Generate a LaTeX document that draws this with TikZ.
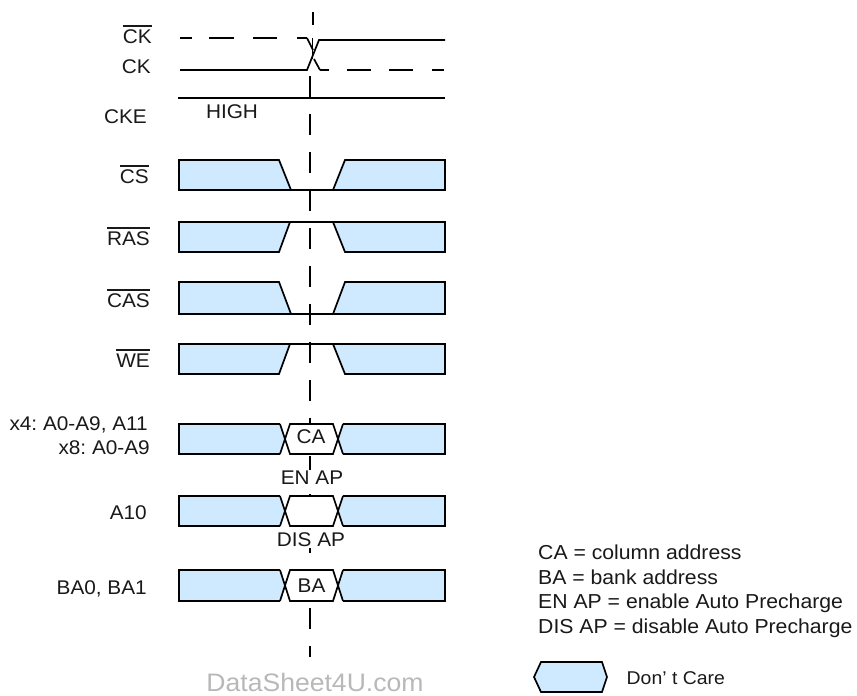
\documentclass[tikz,border=0pt]{standalone}
\usepackage{fontspec}
\setmainfont[FakeStretch=1.05]{Liberation Sans}
\newcommand\ovl[1]{\vbox{\hrule height 1.5pt\kern 2.4pt\hbox{#1}}}
\definecolor{dc}{RGB}{207,233,255}
\tikzset{
 x=1pt,y=-1pt,
 sig/.style={line width=1.7pt,line join=miter,draw=black},
 dontcare/.style={sig,fill=dc},
 wave/.style={line width=1.7pt},
 lbl/.style={inner sep=0pt,font=\frenchspacing\fontsize{19.8}{22}\selectfont,text=black!90},
 boxlbl/.style={lbl,fill=white,inner xsep=1pt,inner ysep=1pt},
 rlbl/.style={lbl,anchor=base east},
 llbl/.style={lbl,anchor=base west,font=\frenchspacing\fontsize{20.2}{22}\selectfont},
 guide/.style={line width=1.7pt,dash pattern=on 21pt off 17pt},
}
\newcommand\lowrow[2]{% top, bottom: dips low in centre
 \path[dontcare] (179,#1)--(279,#1)--(291,#2)--(179,#2)--cycle;
 \path[dontcare] (445,#1)--(345,#1)--(333,#2)--(445,#2)--cycle;
 \draw[sig] (291,#2)--(333,#2);}
\newcommand\highrow[2]{%
 \path[dontcare] (179,#1)--(290,#1)--(279,#2)--(179,#2)--cycle;
 \path[dontcare] (445,#1)--(333,#1)--(345,#2)--(445,#2)--cycle;
 \draw[sig] (290,#1)--(333,#1);}
\newcommand\addrrow[2]{%
 \path[fill=dc] (179,#1)--(280,#1)--(285,{(#1+#2)/2})--(280,#2)--(179,#2)--cycle;
 \path[fill=dc] (445,#1)--(343,#1)--(338,{(#1+#2)/2})--(343,#2)--(445,#2)--cycle;
 \path[fill=white] (290,#1)--(333,#1)--(338,{(#1+#2)/2})--(333,#2)--(290,#2)--(285,{(#1+#2)/2})--cycle;
 \draw[sig] (280,#1)--(179,#1)--(179,#2)--(280,#2);
 \draw[sig] (343,#1)--(445,#1)--(445,#2)--(343,#2);
 \draw[sig] (280,#1)--(290,#2)--(333,#2)--(343,#1);
 \draw[sig] (280,#2)--(290,#1)--(333,#1)--(343,#2);}
\begin{document}
\begin{tikzpicture}
\useasboundingbox (0,0) rectangle (857,696);
% guide
\draw[wave] (313,12)--(313,25);
\draw[wave] (312.5,38)--(312.5,59);
\draw[guide] (310,76)--(310,657);
% clocks
\draw[wave,dash pattern=on 12pt off 17pt on 25pt off 19pt on 24pt off 20pt on 10pt off 100pt] (180,38)--(307,38);
\draw[wave] (307,38)--(313,50) (314,59)--(320,70);
\draw[wave,dash pattern=on 9pt off 18pt on 24pt off 18pt on 24pt off 19pt on 12pt off 100pt] (320,70)--(444,70);
\draw[wave] (180,70)--(307,70)--(319,40)--(445,40);
\draw[wave] (178,98)--(445,98);
% rows
\lowrow{160}{190}
\highrow{222}{252}
\lowrow{282}{314}
\highrow{344}{374}
\addrrow{424}{454}
\addrrow{496}{526}
\addrrow{570}{601}
% box labels
\node[lbl] (tca) at (311,437) {CA};
\node[lbl] (tba) at (311.5,586) {BA};
\node[boxlbl] (ten) at (312,478) {EN AP};
\node[boxlbl] (tdis) at (311,540) {DIS AP};
\node[lbl] (thigh) at (232,112) {HIGH};
% signal labels
\node[rlbl] (lckb) at (152,43) {\ovl{CK}};
\node[rlbl] (lck) at (151,73) {CK};
\node[rlbl] (lcke) at (147,123) {CKE};
\node[rlbl] (lcs) at (149,183) {\ovl{CS}};
\node[rlbl] (lras) at (150,245) {\ovl{RAS}};
\node[rlbl] (lcas) at (150,307) {\ovl{CAS}};
\node[rlbl] (lwe) at (150,367) {\ovl{WE}};
\node[rlbl] (lx4) at (148,430) {x4: A0-A9, A11};
\node[rlbl] (lx8) at (150,454) {x8: A0-A9};
\node[rlbl] (la10) at (147,519) {A10};
\node[rlbl] (lba) at (147,594) {BA0, BA1};
% legend
\node[llbl] (k1) at (538,559) {CA = column address};
\node[llbl] (k2) at (538,584) {BA = bank address};
\node[llbl] (k3) at (538,608) {EN AP = enable Auto Precharge};
\node[llbl] (k4) at (538,633) {DIS AP = disable Auto Precharge};
\path[dontcare] (541,662)--(602,662)--(607,677)--(602,692)--(541,692)--(534,677)--cycle;
\node[llbl,font=\frenchspacing\fontsize{18.5}{22}\selectfont] (k5) at (626.5,684) {Don’ t Care};
\node[lbl,font=\fontsize{25.3}{28}\selectfont,text=black!28] (wm) at (315,682) {DataSheet4U.com};
\end{tikzpicture}
\end{document}
